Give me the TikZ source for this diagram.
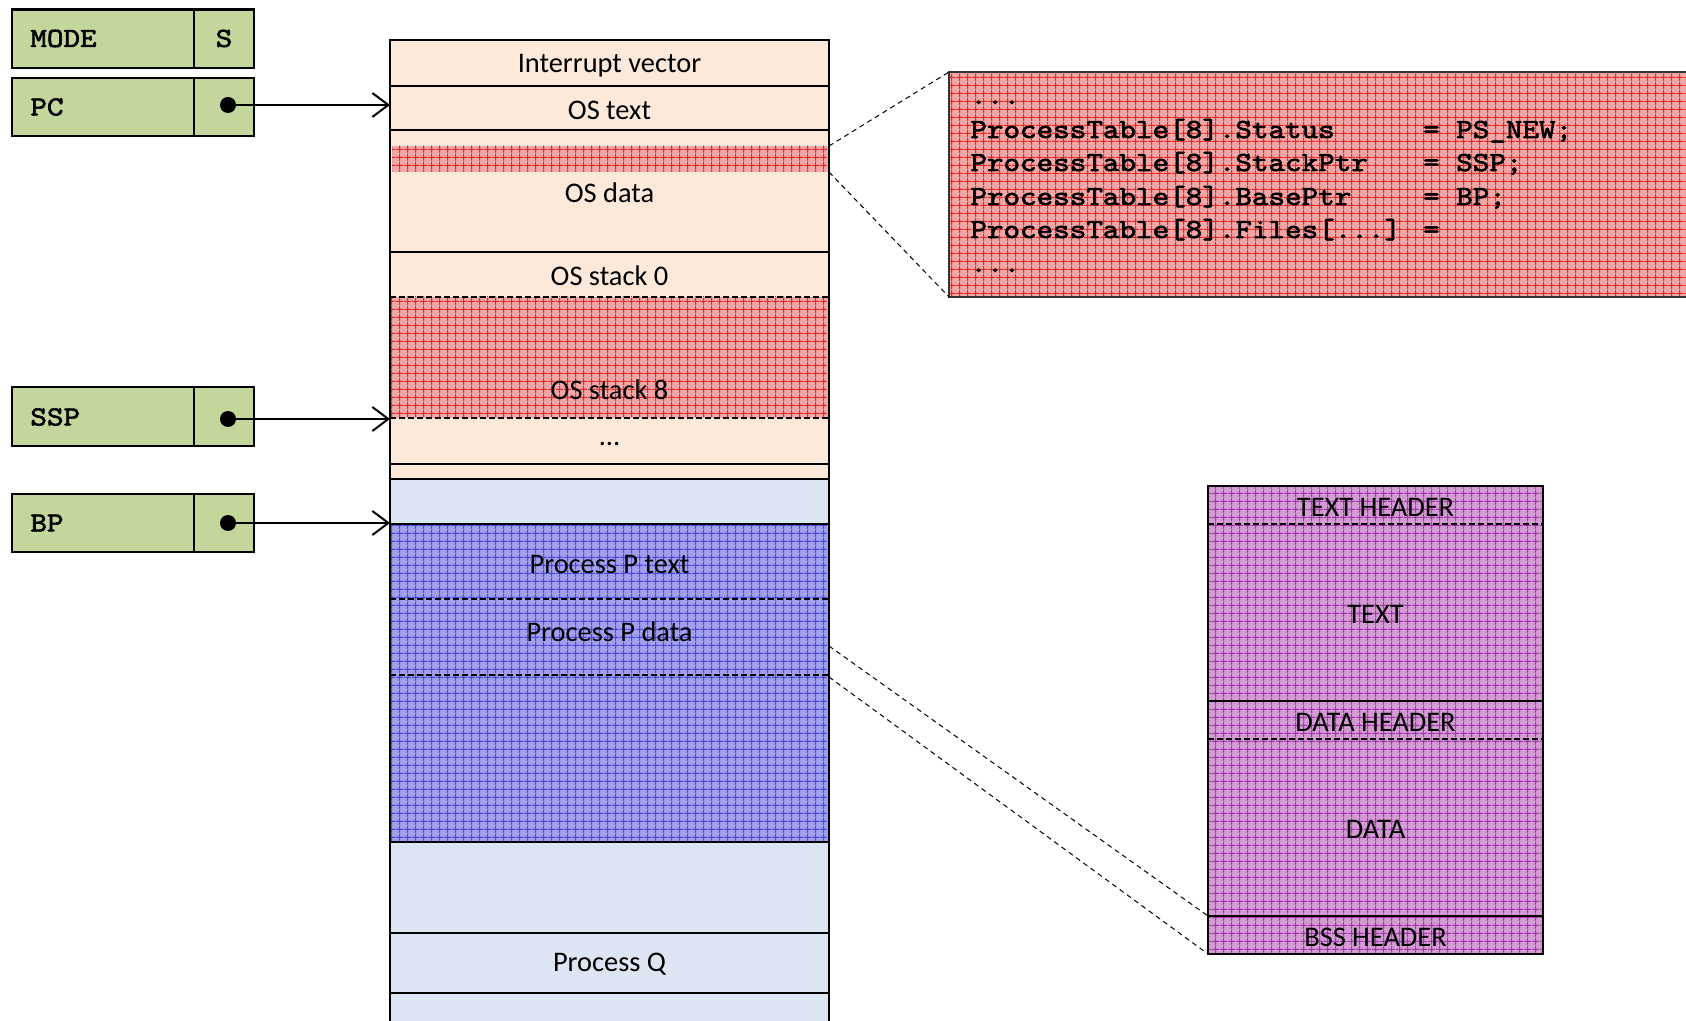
\documentclass[tikz,border=0pt]{standalone}
\usepackage{fontspec}
\newfontfamily\lblfont{Carlito}
\newfontfamily\courfont[FakeBold=2.2, FakeStretch=1.143]{lmmono10-regular.otf}
\usetikzlibrary{patterns.meta,arrows.meta}
\definecolor{memorange}{HTML}{FDE9D9}
\definecolor{memblue}{HTML}{DCE6F2}
\definecolor{reggreen}{HTML}{C3D69B}
\definecolor{redbg}{HTML}{F2A6A6}
\definecolor{redln}{HTML}{E02A2A}
\definecolor{bluebg}{HTML}{A0A0EE}
\definecolor{blueln}{HTML}{4848DA}
\definecolor{purpbg}{HTML}{D49AD4}
\definecolor{purpln}{HTML}{9E38A6}
\tikzset{
  lbl/.style={font=\lblfont\fontsize{14.2}{16}\selectfont, inner sep=0pt},
  regbox/.style={draw=black, line width=1.2pt, fill=reggreen},
  regtxt/.style={font=\courfont\fontsize{13.8}{16}\selectfont, inner sep=0pt},
  codetxt/.style={font=\courfont\fontsize{13.8}{16}\selectfont, inner sep=0pt, anchor=base west},
  redpat/.style={preaction={fill=redbg}, pattern={Hatch[angle=0,distance=4pt,line width=0.5pt]}, pattern color=redln},
  bluepat/.style={preaction={fill=bluebg}, pattern={Hatch[angle=0,distance=4pt,line width=0.5pt]}, pattern color=blueln},
  purppat/.style={preaction={fill=purpbg}, pattern={Hatch[angle=0,distance=4pt,line width=0.5pt]}, pattern color=purpln},
  ptr/.style={line width=1pt, -{Straight Barb[length=8pt,width=12pt,line width=1pt]}},
  zoomln/.style={line width=0.5pt, dash pattern=on 2.5pt off 2pt},
  solidsep/.style={line width=1pt},
  dashsep/.style={line width=0.6pt, dash pattern=on 3pt off 1.5pt},
}
\begin{document}
\begin{tikzpicture}[x=0.5pt,y=-0.5pt]
\useasboundingbox (0,0) rectangle (1686,1021);
\clip (0,0) rectangle (1686,1021);

% ---------- memory column ----------
\fill[memorange] (390,40) rectangle (829,479);
\fill[memblue] (390,479) rectangle (829,1030);
\path[redpat] (392,146) rectangle (828,172);
\path[redpat] (391,297) rectangle (828,418);
\path[bluepat] (391,524) rectangle (828,842);
\draw[solidsep] (390,86) -- (829,86);
\draw[solidsep] (390,130) -- (829,130);
\draw[solidsep] (390,252) -- (829,252);
\draw[dashsep] (390,297) -- (829,297);
\draw[dashsep] (390,418) -- (829,418);
\draw[solidsep] (390,464) -- (829,464);
\draw[line width=1.3pt] (390,479) -- (829,479);
\draw[solidsep] (390,524) -- (829,524);
\draw[dashsep] (390,599) -- (829,599);
\draw[dashsep] (390,675) -- (829,675);
\draw[solidsep] (390,842) -- (829,842);
\draw[solidsep] (390,933) -- (829,933);
\draw[solidsep] (390,993) -- (829,993);
\draw[line width=1.2pt] (390,1030) -- (390,40) -- (829,40) -- (829,1030);

\node[lbl] (iv) at (609.5,66) {Interrupt vector};
\node[lbl] (ostext) at (609.5,110) {OS text};
\node[lbl] (osdata) at (609.5,193) {OS data};
\node[lbl] (os0) at (609.5,276) {OS stack 0};
\node[lbl] (os8) at (609.5,390) {OS stack 8};
\node[lbl] (dots) at (609.5,444) {...};
\node[lbl] (ppt) at (609.5,564) {Process P text};
\node[lbl] (ppd) at (609.5,632) {Process P data};
\node[lbl] (pq) at (609.5,964) {Process Q};

% ---------- registers ----------
\draw[regbox] (12,9.5) rectangle (254,68);
\draw[line width=1pt] (194,9.5) -- (194,68);
\node[regtxt, anchor=west] (mode) at (30,38.5) {MODE};
\node[regtxt] (modev) at (224,38.5) {S};

\draw[regbox] (12,78) rectangle (254,136);
\draw[line width=1pt] (194,78) -- (194,136);
\node[regtxt, anchor=west] (pc) at (30,107) {PC};

\draw[regbox] (12,387) rectangle (254,446);
\draw[line width=1pt] (194,387) -- (194,446);
\node[regtxt, anchor=west] (ssp) at (30,417) {SSP};

\draw[regbox] (12,494) rectangle (254,552);
\draw[line width=1pt] (194,494) -- (194,552);
\node[regtxt, anchor=west] (bp) at (30,523) {BP};

\coordinate (pcdot) at (228,105);
\coordinate (sspdot) at (228,419);
\coordinate (bpdot) at (228,523);
\coordinate (pcend) at (390,105);
\coordinate (sspend) at (390,419);
\coordinate (bpend) at (390,523);
\fill (pcdot) circle (4pt);
\fill (sspdot) circle (4pt);
\fill (bpdot) circle (4pt);
\draw[ptr] (pcdot) -- (pcend);
\draw[ptr] (sspdot) -- (sspend);
\draw[ptr] (bpdot) -- (bpend);

% ---------- code box ----------
\path[redpat] (949,72) rectangle (1700,297);
\draw[line width=0.6pt, draw=black!80] (1700,72) -- (949,72) -- (949,297) -- (1700,297);
\node[codetxt] (c1) at (970,104) {...};
\node[codetxt] (c2) at (970,138) {\rlap{ProcessTable[8].Status}\phantom{ProcessTable[8].Files[...] }= PS\_NEW;};
\node[codetxt] (c3) at (970,171) {\rlap{ProcessTable[8].StackPtr}\phantom{ProcessTable[8].Files[...] }= SSP;};
\node[codetxt] (c4) at (970,205) {\rlap{ProcessTable[8].BasePtr}\phantom{ProcessTable[8].Files[...] }= BP;};
\node[codetxt] (c5) at (970,238) {ProcessTable[8].Files[...] =};
\node[codetxt] (c6) at (970,272) {...};

\coordinate (bandtop) at (829,146);
\coordinate (bandbot) at (829,172);
\coordinate (codetl) at (949,72);
\coordinate (codebl) at (949,297);
\draw[zoomln] (bandtop) -- (codetl);
\draw[zoomln] (bandbot) -- (codebl);

% ---------- executable file layout ----------
\path[purppat] (1208,486) rectangle (1543,954);
\draw[dashsep] (1208,524) -- (1543,524);
\draw[solidsep] (1208,701) -- (1543,701);
\draw[dashsep] (1208,739) -- (1543,739);
\draw[solidsep] (1208,916) -- (1543,916);
\draw[line width=1.2pt] (1208,486) rectangle (1543,954);
\node[lbl] (th) at (1375.5,507) {TEXT HEADER};
\node[lbl] (tx) at (1375.5,614) {TEXT};
\node[lbl] (dh) at (1375.5,722) {DATA HEADER};
\node[lbl] (dt) at (1375.5,829) {DATA};
\node[lbl] (bh) at (1375.5,937) {BSS HEADER};

\coordinate (pdtop) at (829,646);
\coordinate (pdbot) at (829,677);
\coordinate (bsstop) at (1208,916);
\coordinate (bssbot) at (1208,954);
\draw[zoomln] (pdtop) -- (bsstop);
\draw[zoomln] (pdbot) -- (bssbot);
\end{tikzpicture}
\end{document}
